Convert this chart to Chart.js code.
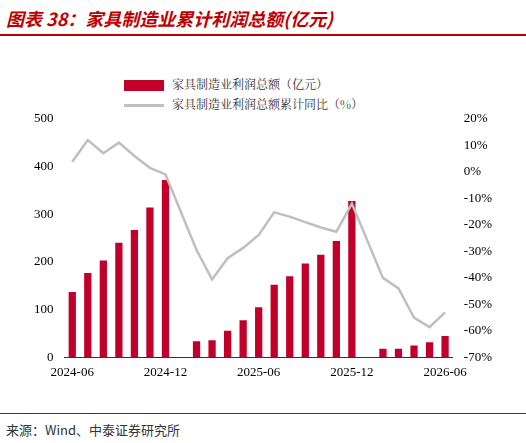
<!DOCTYPE html>
<html><head><meta charset="utf-8">
<script src="https://cdn.jsdelivr.net/npm/chart.js@4"></script>
<style>
body{margin:0;width:526px;height:443px;background:#fff;position:relative;font-family:"Noto Sans CJK SC",sans-serif;overflow:hidden}
#title{position:absolute;left:6px;top:5px;color:#c00000;font-size:18px;font-weight:bold;font-style:italic}
#tline{position:absolute;left:0;top:34px;width:526px;height:2px;background:#c00000}
#bline{position:absolute;left:0;top:413px;width:526px;height:1px;background:#c00000}
#src{position:absolute;left:6px;top:420px;font-size:13px;color:#333}
#legend{position:absolute;left:124px;top:74px;font-family:"Noto Serif CJK SC","Noto Sans CJK SC",serif;font-size:12px;color:#333;line-height:20px}
.sw{display:inline-block;vertical-align:middle;margin-right:8px}
#wrap{position:absolute;left:0;top:108px;width:526px;height:275px}
</style></head><body>
<div id="title">图表 38：家具制造业累计利润总额(亿元)</div>
<div id="tline"></div>
<div id="legend">
<div><span class="sw" style="width:40px;height:11px;background:#c0002a"></span>家具制造业利润总额（亿元）</div>
<div><span class="sw" style="width:40px;height:3px;background:#bfbfbf"></span>家具制造业利润总额累计同比（%）</div>
</div>
<div id="wrap"><canvas id="c"></canvas></div>
<div id="bline"></div>
<div id="src">来源：Wind、中泰证券研究所</div>
<script>
var months = ['2024-06','2024-07','2024-08','2024-09','2024-10','2024-11','2024-12',
  '2025-01','2025-02','2025-03','2025-04','2025-05','2025-06','2025-07','2025-08','2025-09','2025-10','2025-11','2025-12',
  '2026-01','2026-02','2026-03','2026-04','2026-05','2026-06'];
var profit = [137,177,203,240,267,314,372, null,34,36,56,78,105,152,170,197,215,244,328, null,18,18,25,32,45];
var yoy = [3.8,12,7,11,6,1.5,-1, null,-29.5,-40.6,-32.6,-28.7,-23.8,-15.3,-16.9,-19,-21,-22.6,-12, null,-40,-44,-55,-58.6,-53];

var tickFont = {family:'"Liberation Serif",serif', size:13};
new Chart(document.getElementById('c'), {
  data: {
    labels: months,
    datasets: [
      {type:'line', data: yoy, yAxisID:'y1', borderColor:'#bfbfbf', borderWidth:2.5, pointRadius:0, spanGaps:true, tension:0},
      {type:'bar', data: profit, yAxisID:'y', backgroundColor:'#c0002a', barPercentage:0.85, categoryPercentage:0.55}
    ]
  },
  options: {
    responsive:true, maintainAspectRatio:false, animation:false,
    layout:{padding:{left:31,right:31,top:9}},
    plugins:{legend:{display:false}, tooltip:{enabled:false}},
    scales:{
      x:{grid:{display:false, drawTicks:true, tickLength:4}, border:{color:'#333'},
        ticks:{autoSkip:false, maxRotation:0, color:'#000', font:tickFont,
          callback:function(v,i){return i%6===0 ? months[i] : '';}}},
      y:{position:'left', min:0, max:500, grid:{display:false}, border:{display:false},
        ticks:{stepSize:100, color:'#000', font:tickFont}},
      y1:{position:'right', min:-70, max:20, grid:{display:false}, border:{display:false},
        ticks:{stepSize:10, color:'#000', font:tickFont, callback:function(v){return v+'%';}}}
    }
  }
});
</script>
</body></html>
